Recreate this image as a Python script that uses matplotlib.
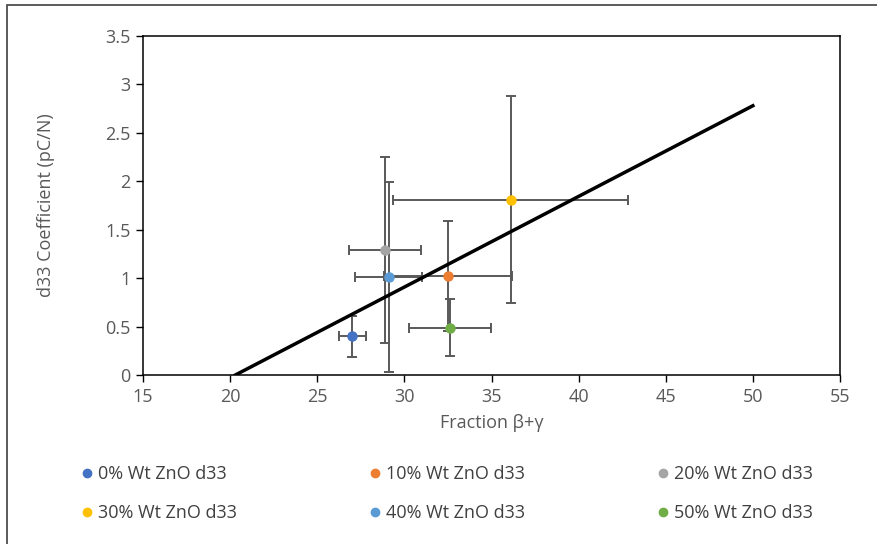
import matplotlib
matplotlib.use("Agg")
import matplotlib.pyplot as plt
from matplotlib.lines import Line2D
from matplotlib.patches import Rectangle

# ── data ──
labels = ['0% Wt ZnO d33', '10% Wt ZnO d33', '20% Wt ZnO d33',
          '30% Wt ZnO d33', '40% Wt ZnO d33', '50% Wt ZnO d33']
colors = ['#4472C4', '#ED7D31', '#A5A5A5', '#FFC000', '#5B9BD5', '#70AD47']
frac = [27.0, 32.5, 28.9, 36.1, 29.1, 32.6]
d33 = [0.40, 1.02, 1.29, 1.81, 1.01, 0.49]
frac_err = [0.77, 3.67, 2.05, 6.76, 1.92, 2.35]
d33_err = [0.21, 0.57, 0.96, 1.07, 0.98, 0.29]

trend_x = [20.3, 50.0]
trend_y = [0.0, 2.78]

plt.rcParams['font.family'] = ['Open Sans', 'DejaVu Sans']
txt = '#595959'
fs = 13

fig = plt.figure(figsize=(8.77, 5.44), dpi=100)
ax = fig.add_axes([143 / 877, 1 - 375 / 544, 697 / 877, 339 / 544])

# outer chart frame (cropped on right / bottom)
fig.patches.append(Rectangle((7 / 877, -0.1), 1.2, (544 - 5) / 544 + 0.1,
                             transform=fig.transFigure, fill=False,
                             edgecolor='#404040', linewidth=1.2))

for i in range(len(labels)):
    ax.errorbar(frac[i], d33[i], xerr=frac_err[i], yerr=d33_err[i],
                fmt='none', ecolor='#595959', elinewidth=1.4,
                capsize=3.5, capthick=1.4, zorder=2)
for i in range(len(labels)):
    ax.plot(frac[i], d33[i], 'o', color=colors[i], markersize=6.5, zorder=4)

ax.plot(trend_x, trend_y, color='black', linewidth=2.5, zorder=3)

ax.set_xlim(15, 55)
ax.set_ylim(0, 3.5)
ax.set_xticks(range(15, 56, 5))
ax.set_yticks([0, 0.5, 1, 1.5, 2, 2.5, 3, 3.5])
ax.set_yticklabels(['0', '0.5', '1', '1.5', '2', '2.5', '3', '3.5'])
ax.tick_params(direction='out', length=5, width=1, colors='black',
               labelcolor=txt, labelsize=fs, pad=4)
for s in ax.spines.values():
    s.set_color('black')
    s.set_linewidth(1.1)

ax.set_xlabel('Fraction β+γ', fontsize=fs, color=txt, labelpad=6)
ax.set_ylabel('d33 Coefficient (pC/N)', fontsize=fs, color=txt, labelpad=36)

# matplotlib fills legend column by column -> reorder so rows read 0,10,20 / 30,40,50
order = [0, 3, 1, 4, 2, 5]
handles = [Line2D([], [], marker='o', linestyle='none', color=colors[i], markersize=6)
           for i in order]
fig.legend(handles, [labels[i] for i in order], loc='upper left',
           bbox_to_anchor=(65 / 877, 1 - 449 / 544),
           ncol=3, frameon=False, fontsize=fs, labelcolor='#404040',
           handlelength=0.6, handletextpad=0.35, columnspacing=7.3,
           labelspacing=1.15)

fig.savefig('out.png', dpi=100)
